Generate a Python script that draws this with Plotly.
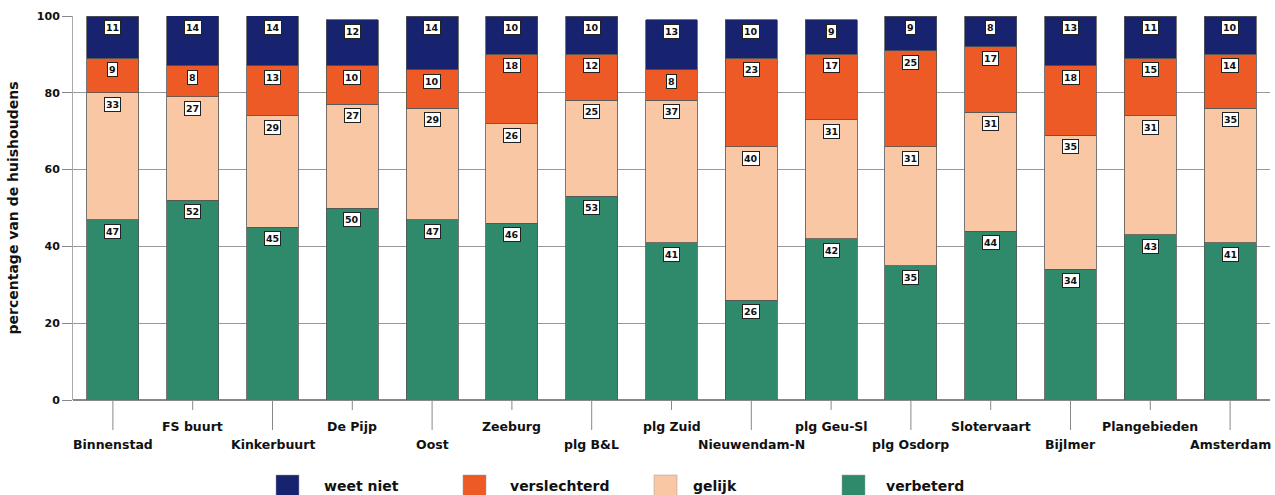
import plotly.graph_objects as go

categories = ["Binnenstad", "FS buurt", "Kinkerbuurt", "De Pijp", "Oost", "Zeeburg",
              "plg B&L", "plg Zuid", "Nieuwendam-N", "plg Geu-Sl", "plg Osdorp",
              "Slotervaart", "Bijlmer", "Plangebieden", "Amsterdam"]
verbeterd = [47, 52, 45, 50, 47, 46, 53, 41, 26, 42, 35, 44, 34, 43, 41]
gelijk = [33, 27, 29, 27, 29, 26, 25, 37, 40, 31, 31, 31, 35, 31, 35]
verslechterd = [9, 8, 13, 10, 10, 18, 12, 8, 23, 17, 25, 17, 18, 15, 14]
weet_niet = [11, 14, 14, 12, 14, 10, 10, 13, 10, 9, 9, 8, 13, 11, 10]
y_ticks = [0, 20, 40, 60, 80, 100]

series = [
    ("verbeterd", verbeterd, "#2f8a6b"),
    ("gelijk", gelijk, "#f9c7a3"),
    ("verslechterd", verslechterd, "#ee5a26"),
    ("weet niet", weet_niet, "#17236f"),
]
legend_order = ["weet niet", "verslechterd", "gelijk", "verbeterd"]

FONT = "DejaVu Sans"
W, H = 1275, 495
PLOT_L, PLOT_R, PLOT_T, PLOT_B = 73, 1270, 16, 400   # page pixels
ML, MR = PLOT_L, W - PLOT_R
MT, MB = PLOT_T, H - PLOT_B
PW = PLOT_R - PLOT_L
PH = PLOT_B - PLOT_T
YMAX = 100


def px_x(p):
    return (p - PLOT_L) / PW


def px_y(p):
    return (PLOT_B - p) / PH


fig = go.Figure()
for name, vals, col in series:
    fig.add_trace(go.Bar(
        x=categories, y=vals, name=name,
        marker=dict(color=col, line=dict(color="#555555", width=0.8)),
        showlegend=False,
    ))

annotations = []
shapes = []
# value labels in white boxes near the top of each segment
cum = [0] * len(categories)
for name, vals, col in series:
    for i, v in enumerate(vals):
        cum[i] += v
        annotations.append(dict(
            x=categories[i], y=min(cum[i], YMAX), xref="x", yref="y",
            text=str(v), showarrow=False, yanchor="top", yshift=-4,
            font=dict(family=FONT, size=9.5, color="#111111", weight="bold"),
            bgcolor="white", bordercolor="#222222", borderwidth=1, borderpad=1,
        ))

# staggered category labels with tick lines
for i, c in enumerate(categories):
    low = (i % 2 == 0)
    shapes.append(dict(
        type="line", xref="x", yref="paper",
        x0=c, x1=c, y0=0, y1=-(30 if low else 10) / PH,
        line=dict(color="#888888", width=1),
    ))
    annotations.append(dict(
        x=c, y=0, xref="x", yref="paper", text=c, showarrow=False,
        yanchor="middle", yshift=-(44 if low else 26),
        font=dict(family=FONT, size=12.5, color="#111111", weight="bold"),
    ))

# custom legend
colors = {n: col for n, _, col in series}
box_px = [276, 463, 654, 842]
text_px = [322, 508, 691, 884]
for name, bx, tx in zip(legend_order, box_px, text_px):
    shapes.append(dict(
        type="rect", xref="paper", yref="paper",
        x0=px_x(bx), x1=px_x(bx + 23),
        y0=px_y(475), y1=px_y(496),
        fillcolor=colors[name], line=dict(color="#999999", width=0.5),
    ))
    annotations.append(dict(
        x=px_x(tx), y=px_y(486), xref="paper", yref="paper",
        text=name, showarrow=False, xanchor="left", yanchor="middle",
        font=dict(family=FONT, size=14, color="#111111", weight="bold"),
    ))

fig.update_layout(
    barmode="stack", bargap=0.35,
    width=W, height=H,
    margin=dict(l=ML, r=MR, t=MT, b=MB, autoexpand=False),
    paper_bgcolor="white", plot_bgcolor="white",
    annotations=annotations, shapes=shapes,
    xaxis=dict(range=[-0.5, len(categories) - 0.5], showticklabels=False,
               ticks="", showgrid=False, zeroline=False, showline=False),
    yaxis=dict(range=[0, YMAX], tickvals=y_ticks, ticks="outside", ticklen=10,
               tickcolor="#888888", showgrid=True, gridcolor="#999999",
               gridwidth=1, zeroline=True, zerolinecolor="#888888",
               showline=True, linecolor="#aaaaaa", linewidth=1,
               tickfont=dict(family=FONT, size=11, color="#111111", weight="bold"),
               title=dict(text="percentage van de huishoudens", standoff=14,
                          font=dict(family=FONT, size=14, color="#111111", weight="bold"))),
)

fig.write_html(
    "out.html",
    config={"displayModeBar": False},
    post_script="document.body.style.margin='0';document.body.style.overflow='hidden';",
)
